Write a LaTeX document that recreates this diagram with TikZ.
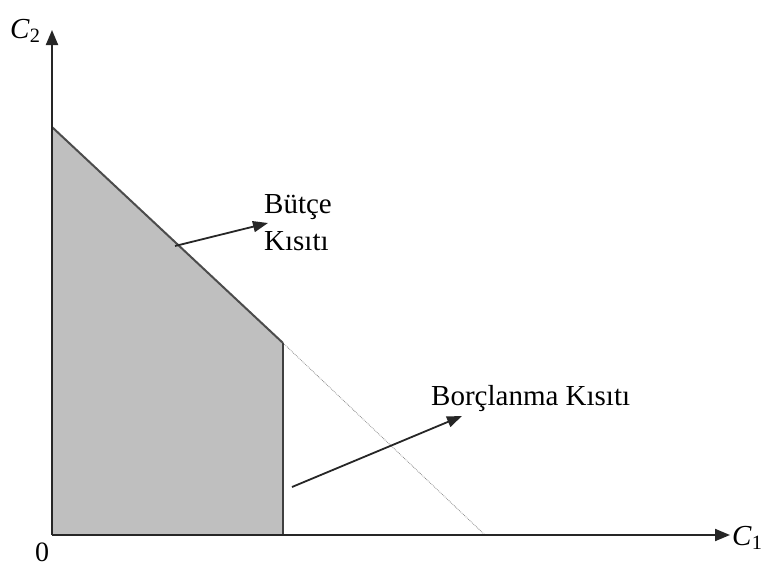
\documentclass[tikz,border=0pt]{standalone}
\usepackage{fontspec}
\setmainfont{Liberation Serif}
\usetikzlibrary{arrows.meta}
\begin{document}
\begin{tikzpicture}[x=1pt,y=-1pt,
  axis/.style={line width=2pt,draw=black!85,-{Triangle[length=15pt,width=12pt]}},
  pointer/.style={line width=1.8pt,draw=black!85,-{Triangle[length=15pt,width=11pt]}},
  lbl/.style={inner sep=0pt,font=\fontsize{29}{32}\selectfont,align=left}]
\useasboundingbox (0,0) rectangle (761,568);
\coordinate (O) at (52,535);
\coordinate (Y) at (52,30);
\coordinate (X) at (730,535);
\coordinate (A) at (52,127);
\coordinate (K) at (283,343);
\coordinate (KB) at (283,535);
\coordinate (E) at (485,535);
\fill[black!25] (O) -- (A) -- (K) -- (KB) -- cycle;
\draw[black!45,line width=0.8pt,densely dotted] (K) -- (E);
\draw[black!70,line width=2pt] (A) -- (K);
\draw[black!75,line width=2pt] (K) -- (KB);
\draw[axis] (O) -- (Y);
\draw[axis] (O) -- (X);
\node[lbl,anchor=base west] (c2) at (10,38) {\textit{C}\textsubscript{2}};
\node[lbl,anchor=base west] (c1) at (732,545) {\textit{C}\textsubscript{1}};
\node[lbl,anchor=base west,font=\fontsize{28}{30}\selectfont] (zero) at (35,561) {0};
\node[lbl,anchor=base west] (b1) at (264,213) {Bütçe};
\node[lbl,anchor=base west] (b2) at (264,250) {Kısıtı};
\node[lbl,anchor=base west] (bk) at (431,405) {Borçlanma Kısıtı};
\coordinate (p1) at (175,246);
\coordinate (q1) at (268,223);
\coordinate (p2) at (292,487);
\coordinate (q2) at (462,416);
\draw[pointer] (p1) -- (q1);
\draw[pointer] (p2) -- (q2);
\end{tikzpicture}
\end{document}
